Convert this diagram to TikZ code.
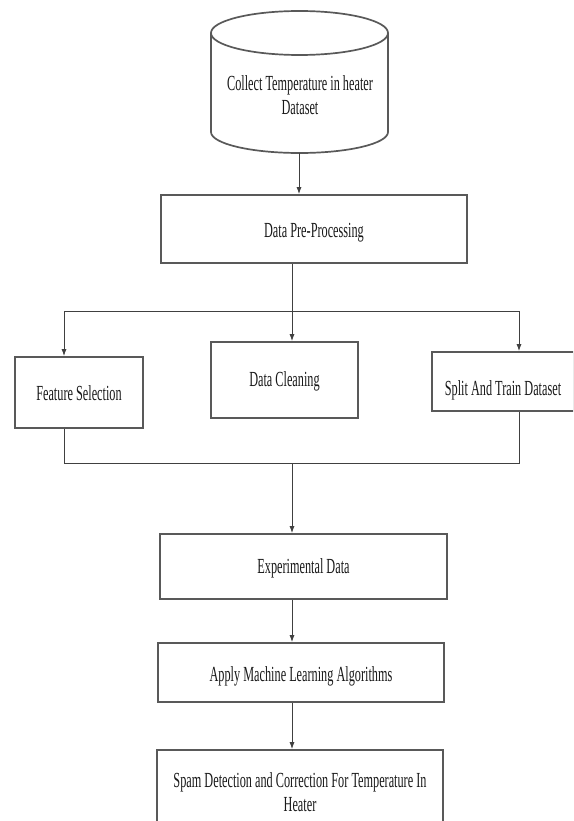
\documentclass[tikz,border=0pt]{standalone}
\usepackage{fontspec}
\setmainfont{Liberation Serif}[FakeStretch=0.57]
\usetikzlibrary{arrows.meta}
\newcommand{\lowerby}[2]{\raisebox{-#1}[\height][\depth]{#2}}
\tikzset{
  boxline/.style={draw=black!65, line width=1.7pt},
  stepbox/.style={boxline, rectangle, inner sep=0pt, align=center, fill=white},
  txt/.style={font=\fontsize{21.5}{24}\selectfont, text=black!90, align=center, inner sep=0pt},
  conn/.style={draw=black!75, line width=1pt},
  arr/.style={conn, -{Latex[length=7pt,width=5pt]}},
}
\begin{document}
\begin{tikzpicture}[x=1pt,y=-1pt]
\useasboundingbox (0,0) rectangle (573,821);
\fill[white] (0,0) rectangle (573,821);
\clip (0,0) rectangle (573,821);
% cylinder
\draw[boxline, fill=white] (211,33) -- (211,132) arc[start angle=180, end angle=0, x radius=88.5, y radius=21] -- (388,33);
\draw[boxline] (299.5,33) ellipse [x radius=88.5, y radius=22];
\node[txt] (db) at (300,95) {Collect Temperature in heater\\Dataset};
\coordinate (dbbot) at (299,153);
% boxes
\node[stepbox, txt, minimum width=306pt, minimum height=68pt] (pre) at (314,229) {\lowerby{4pt}{Data Pre-Processing}};
\node[stepbox, txt, minimum width=128pt, minimum height=71pt] (feat) at (79,392.5) {\lowerby{1pt}{Feature Selection}};
\node[stepbox, txt, minimum width=147pt, minimum height=76pt] (clean) at (284.5,380) {\lowerby{1pt}{Data Cleaning}};
\node[stepbox, txt, minimum width=142pt, minimum height=59pt] (split) at (503,381.5) {\lowerby{9pt}{Split And Train Dataset}};
\node[stepbox, txt, minimum width=287pt, minimum height=65pt] (exp) at (303.5,566.5) {\lowerby{2pt}{Experimental Data}};
\node[stepbox, txt, minimum width=286pt, minimum height=59pt] (apply) at (301,672.5) {\lowerby{4pt}{Apply Machine Learning Algorithms}};
\node[stepbox, txt, minimum width=286pt, minimum height=84pt] (spam) at (300,792) {Spam Detection and Correction For Temperature In\\Heater};
% connectors
\draw[arr] (dbbot) -- (dbbot |- pre.north);
\coordinate (top) at (292,311);
\coordinate (topl) at (64,311);
\coordinate (topr) at (519,311);
\draw[conn] (pre.south -| top) -- (top);
\draw[conn] (topl) -- (topr);
\draw[arr] (topl) -- (topl |- feat.north);
\draw[arr] (top) -- (top |- clean.north);
\draw[arr] (topr) -- (topr |- split.north);
\coordinate (botl) at (64,463);
\coordinate (botr) at (519,463);
\coordinate (bot) at (292,463);
\draw[conn] (botl |- feat.south) -- (botl) -- (botr) -- (botr |- split.south);
\draw[arr] (bot) -- (bot |- exp.north);
\draw[arr] (exp.south -| bot) -- (bot |- apply.north);
\draw[arr] (apply.south -| bot) -- (bot |- spam.north);
\end{tikzpicture}
\end{document}
